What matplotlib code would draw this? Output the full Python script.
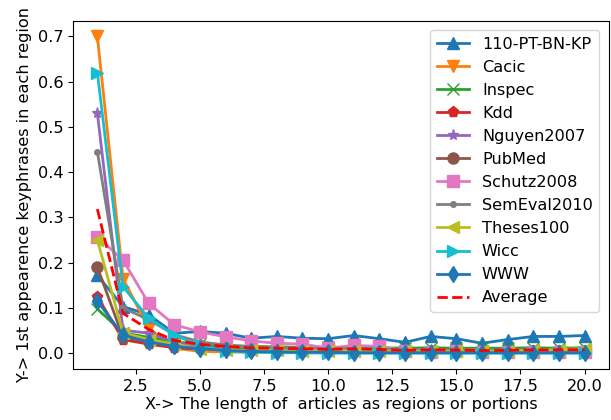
import numpy as np
import matplotlib
matplotlib.use('Agg')
from matplotlib import pyplot as plt

x = list(range(1, 21))

pt110 = [0.172, 0.103, 0.085, 0.044, 0.048, 0.044, 0.033, 0.037, 0.033, 0.032,
         0.039, 0.032, 0.024, 0.037, 0.032, 0.022, 0.030, 0.037, 0.037, 0.039]
cacic = [0.700, 0.165, 0.055, 0.011, 0.004, 0.003, 0.002, 0.002, 0.002, 0.001,
         0.002, 0.001, 0.001, 0.001, 0.001, 0.001, 0.001, 0.001, 0.001, 0.001]
inspec = [0.098, 0.045, 0.035, 0.025, 0.020, 0.017, 0.015, 0.014, 0.013, 0.013,
          0.013, 0.012, 0.011, 0.012, 0.011, 0.011, 0.011, 0.012, 0.011, 0.012]
kdd = [0.125, 0.030, 0.020, 0.012, 0.009, 0.008, 0.007, 0.006, 0.006, 0.005,
       0.005, 0.005, 0.004, 0.004, 0.004, 0.004, 0.004, 0.004, 0.004, 0.004]
nguyen = [0.530, 0.051, 0.044, 0.025, 0.015, 0.012, 0.010, 0.009, 0.008, 0.007,
          0.007, 0.006, 0.006, 0.006, 0.005, 0.005, 0.005, 0.005, 0.005, 0.005]
pubmed = [0.190, 0.035, 0.025, 0.015, 0.012, 0.010, 0.008, 0.007, 0.007, 0.006,
          0.006, 0.005, 0.005, 0.005, 0.005, 0.004, 0.004, 0.004, 0.004, 0.004]
schutz = [0.257, 0.206, 0.110, 0.063, 0.047, 0.036, 0.027, 0.022, 0.020, 0.011,
          0.017, 0.015, 0.005, 0.003, 0.004, 0.002, 0.003, 0.002, 0.003, 0.002]
semeval = [0.445, 0.100, 0.074, 0.041, 0.025, 0.018, 0.014, 0.012, 0.011, 0.010,
           0.010, 0.009, 0.008, 0.008, 0.008, 0.007, 0.007, 0.007, 0.007, 0.007]
theses = [0.250, 0.045, 0.030, 0.020, 0.010, 0.008, 0.006, 0.006, 0.005, 0.005,
          0.005, 0.005, 0.004, 0.005, 0.004, 0.005, 0.005, 0.006, 0.008, 0.010]
wicc = [0.620, 0.147, 0.077, 0.040, 0.017, 0.004, 0.002, 0.001, 0.001, 0.000,
        0.000, 0.000, 0.000, 0.000, 0.000, 0.000, 0.000, 0.000, 0.000, 0.000]
www = [0.115, 0.040, 0.025, 0.015, 0.010, 0.006, 0.004, 0.003, 0.002, 0.002,
       0.001, 0.001, 0.001, 0.001, 0.001, 0.001, 0.001, 0.001, 0.001, 0.001]

names = ['110-PT-BN-KP', 'Cacic', 'Inspec', 'Kdd', 'Nguyen2007', 'PubMed',
         'Schutz2008', 'SemEval2010', 'Theses100', 'Wicc', 'WWW']
series = [pt110, cacic, inspec, kdd, nguyen, pubmed, schutz, semeval, theses, wicc, www]
markers = ['^', 'v', 'x', 'p', '*', 'o', 's', '.', '<', '>', 'd']

average = np.mean(np.array(series), axis=0)

fig = plt.figure(figsize=(6.11, 4.2), dpi=100)
ax = fig.add_axes([0.1195, 0.1214, 0.877, 0.8296])

for name, ys, m in zip(names, series, markers):
	ax.plot(x, ys, marker=m, markersize=8, linewidth=2, label=name)
ax.plot(x, average, 'r--', linewidth=2, label='Average')

fs = 11.6
ax.set_xlabel('X-> The length of  articles as regions or portions', fontsize=fs, labelpad=2)
ax.set_ylabel('Y-> 1st appearence keyphrases in each region', fontsize=fs)
ax.tick_params(labelsize=fs)
ax.legend(loc='upper right', fontsize=fs, borderaxespad=0.6)

fig.savefig('out.png', dpi=100)
